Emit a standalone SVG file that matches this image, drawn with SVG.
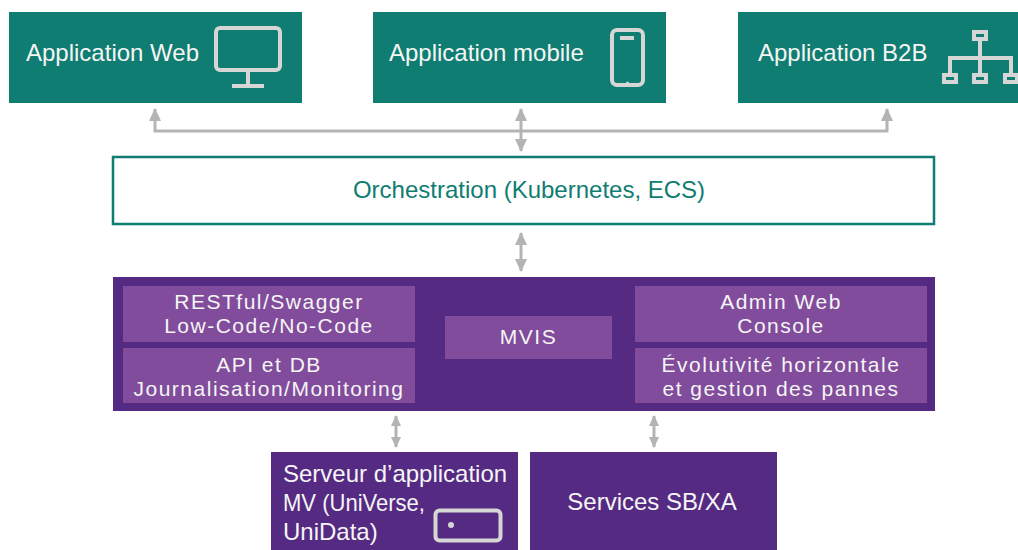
<svg xmlns="http://www.w3.org/2000/svg" width="1018" height="550" viewBox="0 0 1018 550">
<defs>
<style>
.teal{fill:#0f7d72}
.txt{font-family:"Liberation Sans",Arial,sans-serif;font-size:24px;fill:#f5f5f5}
.sm{font-size:21px;letter-spacing:1.5px}
.mid{text-anchor:middle}
.purple{fill:#552a83}
.inner{fill:#814c9c}
.icon{fill:none;stroke:#d6d6d6;stroke-width:4}
.conn{fill:none;stroke:#b4b4b4;stroke-width:3}
</style>
<marker id="ah" markerUnits="userSpaceOnUse" markerWidth="13" markerHeight="12" refX="12" refY="6" orient="auto-start-reverse" viewBox="0 0 13 12">
<path d="M0,0 L13,6 L0,12 Z" fill="#b4b4b4"/>
</marker>
<marker id="ah2" markerUnits="userSpaceOnUse" markerWidth="11" markerHeight="10" refX="10" refY="5" orient="auto-start-reverse" viewBox="0 0 11 10">
<path d="M0,0 L11,5 L0,10 Z" fill="#b4b4b4"/>
</marker>
</defs>
<rect width="1018" height="550" fill="#ffffff"/>

<g id="connectors">
<polyline class="conn" points="155,109 155,131 887,131 887,109" marker-start="url(#ah)" marker-end="url(#ah)"/>
<line class="conn" x1="521" y1="109" x2="521" y2="151" marker-start="url(#ah)" marker-end="url(#ah)"/>
<line class="conn" x1="521" y1="233" x2="521" y2="271" marker-start="url(#ah)" marker-end="url(#ah)"/>
<line class="conn" x1="396" y1="416" x2="396" y2="447" marker-start="url(#ah2)" marker-end="url(#ah2)"/>
<line class="conn" x1="654" y1="416" x2="654" y2="447" marker-start="url(#ah2)" marker-end="url(#ah2)"/>
</g>

<g id="app-web">
<rect class="teal" x="9" y="12" width="293" height="91"/>
<text class="txt" x="26" y="61">Application Web</text>
<rect class="icon" x="216" y="28" width="64" height="42" rx="4"/>
<line class="icon" x1="248" y1="72" x2="248" y2="85"/>
<line class="icon" x1="232" y1="86" x2="264" y2="86"/>
</g>

<g id="app-mobile">
<rect class="teal" x="373" y="12" width="293" height="91"/>
<text class="txt" x="389" y="61">Application mobile</text>
<rect class="icon" x="612" y="30" width="31" height="55" rx="5"/>
<line class="icon" x1="620" y1="38" x2="634" y2="38" stroke-width="2"/>
<circle cx="627.5" cy="83" r="1.6" fill="#d6d6d6"/>
</g>

<g id="app-b2b">
<rect class="teal" x="738" y="12" width="280" height="91"/>
<text class="txt" x="758" y="61">Application B2B</text>
<g class="icon" stroke-width="3">
<rect x="974" y="32" width="12" height="7"/>
<line x1="980" y1="39" x2="980" y2="75"/>
<polyline points="950,75 950,58 1011,58 1011,75"/>
<rect x="944" y="75" width="12" height="7"/>
<rect x="974" y="75" width="12" height="7"/>
<rect x="1005" y="75" width="12" height="7"/>
</g>
</g>

<g id="orchestration">
<rect x="113" y="157" width="821" height="67" fill="#ffffff" stroke="#0f7d72" stroke-width="2.5"/>
<text class="txt mid" x="529" y="198" style="fill:#0f7d72">Orchestration (Kubernetes, ECS)</text>
</g>

<g id="mvis-platform">
<rect class="purple" x="113" y="277" width="822" height="134"/>
</g>

<g id="restful">
<rect class="inner" x="123" y="286" width="292" height="56"/>
<text class="txt sm mid" x="269" y="309">RESTful/Swagger</text>
<text class="txt sm mid" x="269" y="333">Low-Code/No-Code</text>
</g>

<g id="api-db">
<rect class="inner" x="123" y="348" width="292" height="55"/>
<text class="txt sm mid" x="269" y="372">API et DB</text>
<text class="txt sm mid" x="269" y="396">Journalisation/Monitoring</text>
</g>

<g id="mvis">
<rect class="inner" x="445" y="316" width="167" height="43"/>
<text class="txt sm mid" x="528.5" y="344">MVIS</text>
</g>

<g id="admin-console">
<rect class="inner" x="635" y="286" width="292" height="56"/>
<text class="txt sm mid" x="781" y="309">Admin Web</text>
<text class="txt sm mid" x="781" y="333">Console</text>
</g>

<g id="scalability">
<rect class="inner" x="635" y="348" width="292" height="55"/>
<text class="txt sm mid" x="781" y="372">Évolutivité horizontale</text>
<text class="txt sm mid" x="781" y="396">et gestion des pannes</text>
</g>

<g id="app-server">
<rect class="purple" x="271" y="452" width="247" height="98"/>
<text class="txt" x="283" y="482">Serveur d’application</text>
<text class="txt" x="283" y="511" textLength="142" lengthAdjust="spacingAndGlyphs">MV (UniVerse,</text>
<text class="txt" x="283" y="540">UniData)</text>
<rect class="icon" x="435.5" y="510.5" width="65" height="30" rx="4" stroke-width="5"/>
<circle cx="451" cy="525" r="3" fill="#d6d6d6"/>
</g>

<g id="services">
<rect class="purple" x="530" y="452" width="247" height="98"/>
<text class="txt mid" x="652" y="510">Services SB/XA</text>
</g>
</svg>
